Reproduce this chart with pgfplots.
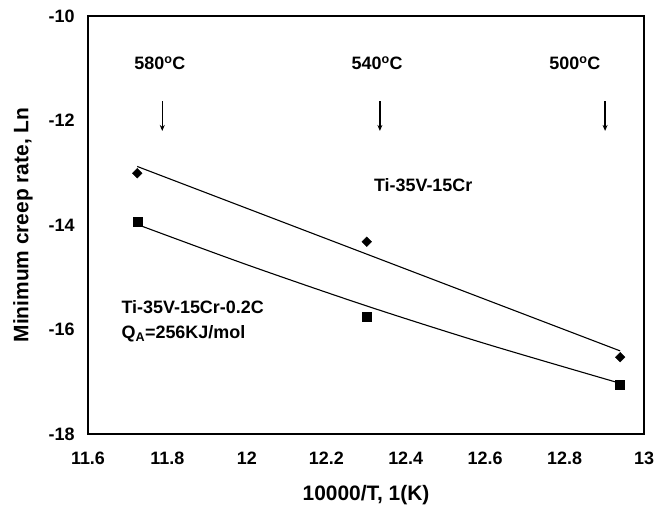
\documentclass[border=0pt]{standalone}
\usepackage{fontspec}
\setmainfont{Liberation Sans}
\usepackage{pgfplots}
\pgfplotsset{compat=1.18}
\usetikzlibrary{arrows.meta}
\begin{document}
\begin{tikzpicture}
\begin{axis}[
  scale only axis,
  width=556bp, height=418bp,
  xmin=11.6, xmax=13,
  ymin=-18, ymax=-10,
  xtick={11.6,11.8,...,13},
  ytick={-18,-16,...,-10},
  xticklabels={11.6,11.8,12,12.2,12.4,12.6,12.8,13},
  major tick length=0pt,
  axis line style={line width=1.4bp},
  tick label style={font=\fontsize{18}{20}\selectfont\bfseries},
  /pgf/number format/assume math mode=true,
  xticklabel style={yshift=-14bp},
  yticklabel style={xshift=-10bp},
  xlabel={10000/T, 1(K)},
  ylabel={Minimum creep rate, Ln},
  label style={font=\fontsize{21}{23}\selectfont\bfseries},
  xlabel style={at={(axis description cs:0.5,-0.146)}, anchor=center},
  ylabel style={at={(axis description cs:-0.117,0.5)}, anchor=center},
  clip=false,
]
% Ti-35V-15Cr
\addplot[only marks, mark=square*, mark size=3.4bp, mark options={rotate=45}, black] coordinates {
  (11.724,-13.01) (12.302,-14.32) (12.94,-16.53)
};
\addplot[black, line width=1.1bp] coordinates {
  (11.724,-12.88) (12.94,-16.41)
};
% Ti-35V-15Cr-0.2C
\addplot[only marks, mark=square*, mark size=4.5bp, black] coordinates {
  (11.724,-13.93) (12.302,-15.75) (12.94,-17.05)
};
\addplot[black, line width=1.1bp, smooth] coordinates {
  (11.724,-13.99) (12.0,-14.76) (12.302,-15.55) (12.6,-16.27) (12.94,-17.03)
};
% temperature markers
\addplot[black, line width=1.3bp, -{Stealth[length=6bp,width=5bp]}] coordinates {(11.787,-11.63) (11.787,-12.20)};
\addplot[black, line width=1.3bp, -{Stealth[length=6bp,width=5bp]}] coordinates {(12.335,-11.63) (12.335,-12.20)};
\addplot[black, line width=1.3bp, -{Stealth[length=6bp,width=5bp]}] coordinates {(12.902,-11.63) (12.902,-12.20)};
\node[font=\fontsize{18}{20}\selectfont\bfseries] at (axis cs:11.781,-10.91) {580\textsuperscript{o}C};
\node[font=\fontsize{18}{20}\selectfont\bfseries] at (axis cs:12.328,-10.91) {540\textsuperscript{o}C};
\node[font=\fontsize{18}{20}\selectfont\bfseries] at (axis cs:12.826,-10.91) {500\textsuperscript{o}C};
\node[font=\fontsize{18}{20}\selectfont\bfseries] at (axis cs:12.444,-13.24) {Ti-35V-15Cr};
\node[font=\fontsize{18}{20}\selectfont\bfseries, anchor=west, inner sep=0pt] at (axis cs:11.684,-15.58) {Ti-35V-15Cr-0.2C};
\node[font=\fontsize{18}{20}\selectfont\bfseries, anchor=west, inner sep=0pt] at (axis cs:11.684,-16.08) {Q\textsubscript{A}=256KJ/mol};
\coordinate (bl) at (rel axis cs:0,0);
\coordinate (tr) at (rel axis cs:1,1);
\end{axis}
\pgfresetboundingbox
\path ([shift={(-88bp,-76bp)}]bl) rectangle ([shift={(26bp,16bp)}]tr);
\end{tikzpicture}
\end{document}
